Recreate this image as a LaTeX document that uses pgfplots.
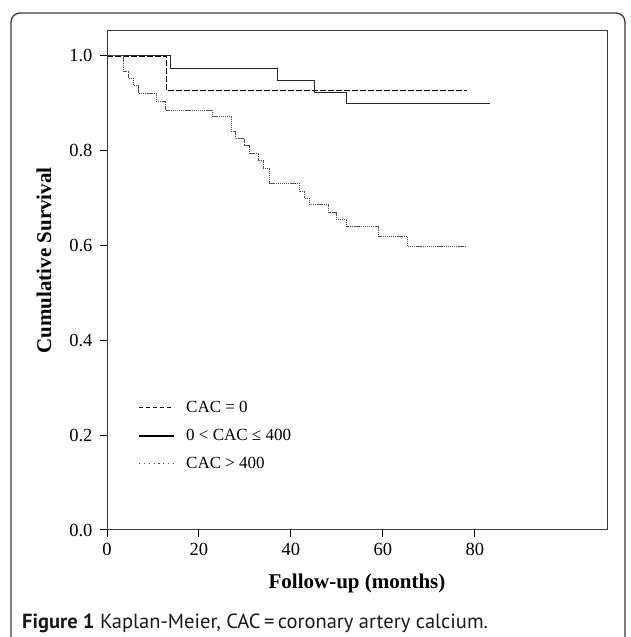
\documentclass[border=0pt]{standalone}
\usepackage{pgfplots}
\pgfplotsset{compat=1.18}
\usepackage{fontspec}
\setmainfont{Liberation Serif}
\newfontfamily\capfont{PT Sans}

\definecolor{framegray}{HTML}{3A3A3A}
\definecolor{dotgray}{HTML}{555555}

% Kaplan-Meier step data
\pgfplotstableread{
t    s
0    1.000
13.0 0.927
78.3 0.927
}\cacnull
\pgfplotstableread{
t    s
0    1.000
13.9 0.973
37.1 0.949
45.1 0.924
52.1 0.899
83.2 0.899
}\caclow
\pgfplotstableread{
t    s
0    1.000
3.6  0.968
4.7  0.953
5.8  0.937
6.9  0.921
10.7 0.904
12.8 0.886
23.0 0.872
27.0 0.841
27.9 0.825
29.8 0.811
31.0 0.795
33.0 0.779
34.0 0.762
35.3 0.731
41.9 0.715
43.0 0.700
44.0 0.686
48.2 0.669
50.0 0.654
52.1 0.640
59.0 0.620
65.3 0.598
77.9 0.598
}\cachigh

\begin{document}
\begin{tikzpicture}[x=1pt,y=1pt]
\useasboundingbox (0,0) rectangle (630,637);
\clip (0,0) rectangle (630,637);
% outer panel
\draw[framegray, line width=1.3pt, rounded corners=9pt] (11,-20) -- (11,624) -- (625,624) -- (625,-20);
\node[anchor=base west, inner sep=0pt, text=black!90] at (22,9)
  {\capfont\fontsize{20.5}{22}\selectfont\textbf{Figure 1} Kaplan-Meier, CAC\,=\,coronary artery calcium.};

\begin{axis}[
    at={(107pt,107pt)}, anchor=south west,
    scale only axis,
    width=500pt, height=499pt,
    xmin=0, xmax=108.7,
    ymin=0, ymax=1.0527,
    xtick={0,20,40,60,80},
    ytick={0,0.2,0.4,0.6,0.8,1.0},
    yticklabel style={xshift=-4pt, /pgf/number format/.cd, fixed, fixed zerofill, precision=1},
    /pgf/number format/assume math mode=true,
    tick pos=left,
    tick align=outside,
    major tick length=7pt,
    tick style={black, line width=1pt},
    axis line style={framegray, line width=1pt},
    ticklabel style={font=\fontsize{18.5}{20}\selectfont},
    xticklabel style={yshift=-3pt},
    xlabel={\textbf{Follow-up (months)}},
    ylabel={\textbf{Cumulative Survival}},
    label style={font=\fontsize{21}{24}\selectfont},
    xlabel style={yshift=-11pt},
    ylabel style={yshift=11pt, xshift=20pt},
    legend style={at={(rel axis cs:0.062,0.262)}, anchor=north west,
        draw=none, fill=none, font=\fontsize{17}{19}\selectfont,
        row sep=11pt, inner sep=0pt},
    legend cell align=left,
    legend image code/.code={\draw[#1] (0pt,0pt) -- (35pt,0pt);},
]
\addlegendimage{black, line width=0.8pt, dash pattern=on 4pt off 3pt}
\addlegendentry{\hspace*{9pt}CAC = 0}
\addlegendimage{black, line width=2pt}
\addlegendentry{\hspace*{9pt}0 < CAC ≤ 400}
\addlegendimage{dotgray, line width=0.9pt, dash pattern=on 1.2pt off 3.6pt}
\addlegendentry{\hspace*{9pt}CAC > 400}

\addplot[const plot, forget plot, black, line width=1.4pt, dash pattern=on 5.5pt off 2.5pt] table[x=t, y=s] {\cacnull};
\addplot[const plot, forget plot, black!85, line width=1pt] table[x=t, y=s] {\caclow};
\addplot[const plot, forget plot, dotgray, line width=1pt, dash pattern=on 1.3pt off 0.8pt] table[x=t, y=s] {\cachigh};
\end{axis}
\end{tikzpicture}
\end{document}
